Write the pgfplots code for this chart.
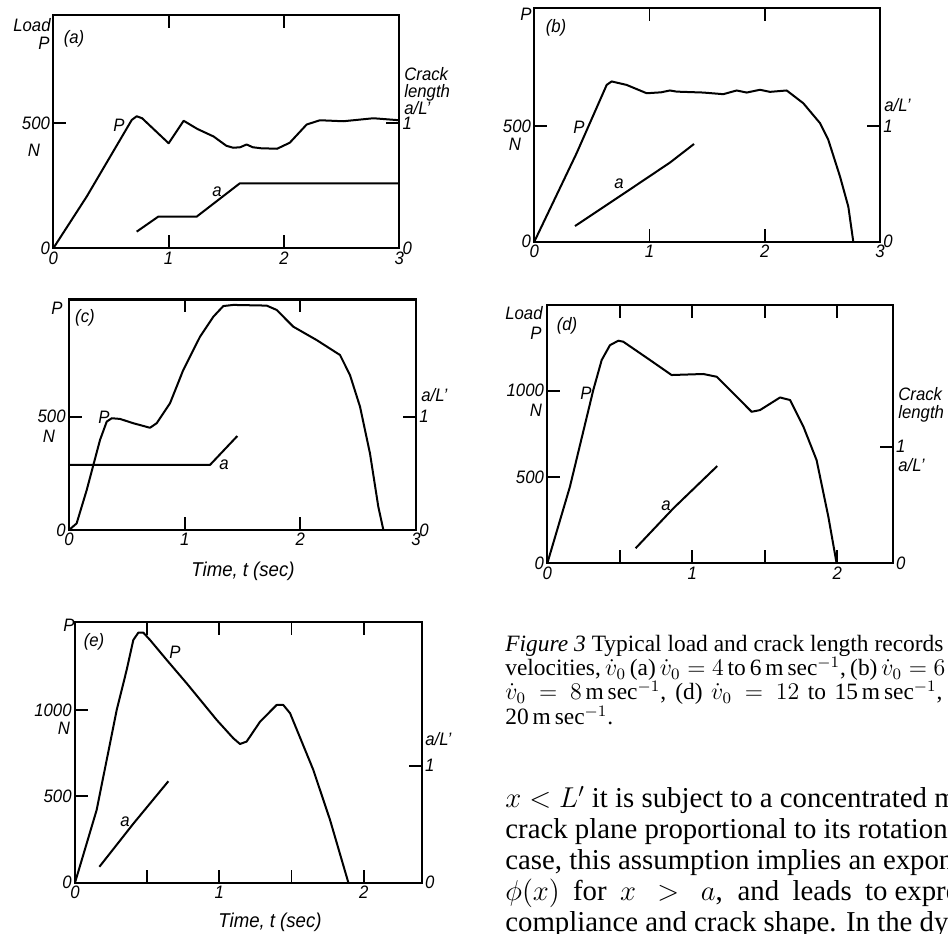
\documentclass[border=0pt]{standalone}
\usepackage{fontspec}
\usepackage{pgfplots}
\pgfplotsset{compat=1.18}
\newfontfamily\lab{Liberation Sans}[FakeStretch=0.93]
\newfontfamily\capfont{Liberation Serif}
\newcommand\lf{\lab\itshape\fontsize{9bp}{10bp}\selectfont}
\newcommand\tf{\lab\itshape\fontsize{10bp}{11bp}\selectfont}

\pgfplotsset{
  curve/.style={black, line width=1bp, line join=round, mark=none},
  panel/.style={
    scale only axis, anchor=south west, xmin=0, ymin=0, clip=false,
    axis line style={line width=1.1bp},
    every tick/.style={black, line width=0.9bp},
    major tick length=6.5bp, tick align=inside,
    xtick pos=both, ytick pos=left,
    ticklabel style={font=\lf},
    xticklabel style={inner sep=1.5bp},
    yticklabel style={inner xsep=1.5bp},
  },
  rpanel/.style={
    scale only axis, anchor=south west, xmin=0, ymin=0, clip=false,
    axis x line=none, axis y line*=right,
    axis line style={-, line width=1.1bp},
    every tick/.style={black, line width=0.9bp},
    major tick length=6.5bp, tick align=inside,
    ytick={0,1}, yticklabels={0,1}, yticklabel pos=right,
    ticklabel style={font=\lf},
    yticklabel style={inner xsep=1.5bp},
  },
}

\begin{document}
\begin{tikzpicture}[x=0.5bp,y=0.5bp]
\useasboundingbox (0,0) rectangle (948,934);
\clip (0,0) rectangle (948,934);

% ---------- (a)
\begin{axis}[panel, at={(26.65bp,342.85bp)}, width=173bp, height=116.65bp,
  xmax=3, ymax=933, xtick={0,1,2,3}, xticklabels={0,1,2,3},
  ytick={0,500}, yticklabels={0,500}]
\addplot[curve] coordinates {(0,0) (0.29,207) (0.68,513) (0.723,528) (0.77,520)
  (1.0,420) (1.13,510) (1.25,477) (1.39,447) (1.5,410) (1.56,402) (1.62,404)
  (1.676,415) (1.73,404) (1.8,400) (1.94,398) (2.05,422) (2.197,495) (2.312,512)
  (2.514,508) (2.775,520) (3.0,512)};
\end{axis}
\begin{axis}[rpanel, at={(26.65bp,342.85bp)}, width=173bp, height=116.65bp,
  xmax=3, ymax=1.866]
\addplot[curve] coordinates {(0.723,0.133) (0.91,0.253) (1.243,0.253) (1.618,0.52) (3.0,0.52)};
\end{axis}

% ---------- (b)
\begin{axis}[panel, at={(267.15bp,346.15bp)}, width=172.85bp, height=116.7bp,
  xmax=3, ymax=1008, xtick={0,1,2,3}, xticklabels={0,1,2,3},
  ytick={0,500}, yticklabels={0,500}]
\addplot[curve] coordinates {(0,0) (0.367,382) (0.628,677) (0.671,692) (0.801,677)
  (0.975,641) (1.1,645) (1.177,653) (1.235,648) (1.467,644) (1.640,637) (1.756,653)
  (1.843,644) (1.958,656) (2.045,647) (2.19,653) (2.334,598) (2.479,512) (2.551,440)
  (2.653,281) (2.725,151) (2.768,0)};
\end{axis}
\begin{axis}[rpanel, at={(267.15bp,346.15bp)}, width=172.85bp, height=116.7bp,
  xmax=3, ymax=2.016]
\addplot[curve] coordinates {(0.353,0.135) (0.628,0.317) (0.888,0.49) (1.177,0.683) (1.386,0.844)};
\end{axis}

% ---------- (c)
\begin{axis}[panel, at={(34.5bp,202bp)}, width=173.5bp, height=115.25bp,
  xmax=3, ymax=1017, xtick={0,1,2,3}, xticklabels={0,1,2,3},
  ytick={0,500}, yticklabels={0,500}]
\addplot[curve] coordinates {(0,0) (0.066,29) (0.153,176) (0.268,397) (0.326,478)
  (0.369,493) (0.441,490) (0.556,471) (0.700,451) (0.758,471) (0.873,559) (0.988,706)
  (1.133,853) (1.248,941) (1.334,988) (1.421,993) (1.709,990) (1.795,971) (1.939,897)
  (2.141,838) (2.343,772) (2.429,684) (2.516,544) (2.602,338) (2.674,103) (2.718,0)};
\end{axis}
\begin{axis}[rpanel, at={(34.5bp,202bp)}, width=173.5bp, height=115.25bp,
  xmax=3, ymax=2.034]
\addplot[curve] coordinates {(0,0.574) (1.219,0.574) (1.455,0.829)};
\end{axis}

% ---------- (d)
\begin{axis}[panel, at={(273.65bp,185.35bp)}, width=172.7bp, height=129.15bp,
  xmax=2.382, ymax=1497, xtick={0,0.5,1,1.5,2}, xticklabels={0,,1,,2},
  ytick={0,500,1000}, yticklabels={0,500,1000}]
\addplot[curve] coordinates {(0,0) (0.156,444) (0.317,1004) (0.375,1178) (0.432,1264)
  (0.490,1290) (0.524,1284) (0.708,1178) (0.857,1091) (1.076,1097) (1.168,1081)
  (1.283,985) (1.409,878) (1.467,888) (1.605,961) (1.674,946) (1.766,792) (1.857,598)
  (1.938,270) (1.995,0)};
\end{axis}
\begin{axis}[rpanel, at={(273.65bp,185.35bp)}, width=172.7bp, height=129.15bp,
  xmax=2.382, ymax=2.215]
\addplot[curve] coordinates {(0.609,0.129) (0.869,0.471) (1.172,0.834)};
\end{axis}

% ---------- (e)
\begin{axis}[panel, at={(37.5bp,25.65bp)}, width=173.35bp, height=130.5bp,
  xmax=2.402, ymax=1511, xtick={0,0.5,1,1.5,2}, xticklabels={0,,1,,2},
  ytick={0,500,1000}, yticklabels={0,500,1000}]
\addplot[curve] coordinates {(0,0) (0.150,421) (0.289,1000) (0.358,1232) (0.404,1405)
  (0.439,1448) (0.473,1448) (0.520,1405) (0.635,1290) (0.774,1154) (0.982,942)
  (1.097,836) (1.143,803) (1.189,817) (1.282,932) (1.397,1029) (1.443,1029)
  (1.490,981) (1.651,653) (1.767,363) (1.894,0)};
\end{axis}
\begin{axis}[rpanel, at={(37.5bp,25.65bp)}, width=173.35bp, height=130.5bp,
  xmax=2.402, ymax=2.23]
\addplot[curve] coordinates {(0.169,0.136) (0.404,0.504) (0.647,0.867)};
\end{axis}

% ---------- panel texts
\begin{scope}[every node/.style={inner sep=0, font=\lf}]
% (a)
\node[anchor=east] at (51,934-25) {Load};
\node[anchor=east] at (50,934-43) {P};
\node at (74,934-39) {(a)};
\node at (34,934-150) {N};
\node[anchor=base west] at (404,934-81) {Crack};
\node[anchor=base west] at (404,934-98) {length};
\node[anchor=base west] at (404,934-115) {a/L\textquoteright};
\node at (119,934-125) {P};
\node at (217,934-192) {a};
% (b)
\node at (526,934-14) {P};
\node at (556,934-28) {(b)};
\node at (515,934-144) {N};
\node[anchor=base west] at (884,934-112) {a/L\textquoteright};
\node at (579,934-127) {P};
\node at (619,934-184) {a};
% (c)
\node at (57,934-308) {P};
\node at (85,934-318) {(c)};
\node at (49,934-436) {N};
\node[anchor=base west] at (421,934-402) {a/L\textquoteright};
\node at (104,934-417) {P};
\node at (224,934-465) {a};
\node[font=\tf] at (243,934-571) {Time, t (sec)};
% (d)
\node[anchor=east] at (543,934-313) {Load};
\node[anchor=east] at (542,934-333) {P};
\node at (567,934-326) {(d)};
\node at (536,934-410) {N};
\node[anchor=base west] at (898,934-401) {Crack};
\node[anchor=base west] at (898,934-419) {length};
\node[anchor=base west] at (898,934-472) {a/L\textquoteright};
\node at (586,934-393) {P};
\node at (666,934-506) {a};
% (e)
\node[anchor=east] at (75,934-625) {P};
\node at (94,934-642) {(e)};
\node at (64,934-728) {N};
\node[anchor=base west] at (425,934-746) {a/L\textquoteright};
\node at (175,934-652) {P};
\node at (125,934-822) {a};
\node[font=\tf] at (270,934-922) {Time, t (sec)};
\end{scope}

% ---------- caption and running text
\begin{scope}[every node/.style={inner sep=0, anchor=base west,
    font=\capfont\fontsize{11.7bp}{12.6bp}\selectfont}]
\node at (505,934-652) {\makebox[219bp][s]{\textit{Figure 3} Typical load and crack length records} for various impact};
\node at (505,934-676) {\makebox[220bp][s]{velocities, $\dot v_0$ (a) $\dot v_0 = 4$ to 6\,m\,sec$^{-1}$, (b) $\dot v_0 = 6$} to 8\,m\,sec$^{-1}$, (c)};
\node at (505,934-700) {\makebox[218.5bp][s]{$\dot v_0 = 8$\,m\,sec$^{-1}$, (d) $\dot v_0 = 12$ to 15\,m\,sec$^{-1}$,}};
\node at (505,934-725) {20\,m\,sec$^{-1}$.};
\end{scope}
\begin{scope}[every node/.style={inner sep=0, anchor=base west,
    font=\capfont\fontsize{14.4bp}{15bp}\selectfont}]
\node at (505,934-808) {$x < L'$ it is subject to a concentrated moment about the};
\node at (505,934-839) {crack plane proportional to its rotation. In the static};
\node at (505,934-870) {case, this assumption implies an exponential decay of};
\node at (505,934-901) {\makebox[191bp][s]{$\phi(x)$ for $x > a$, and leads to} expressions for the};
\node at (505,934-932) {compliance and crack shape. In the dynamic case};
\end{scope}
\end{tikzpicture}
\end{document}
